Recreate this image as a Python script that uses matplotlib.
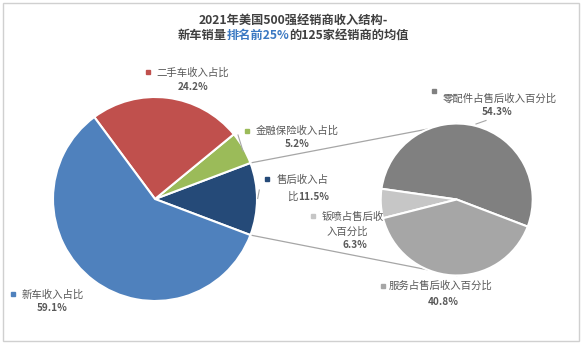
import matplotlib
matplotlib.use("Agg")
import matplotlib.pyplot as plt
from matplotlib.patches import Rectangle
import numpy as np

plt.rcParams['font.family'] = ['Noto Sans CJK SC', 'DejaVu Sans']

# ---- data ----
main_labels = ["售后收入占比11.5%", "金融保险收入占比", "二手车收入占比", "新车收入占比"]
main_values = [11.5, 5.2, 24.2, 59.1]
main_colors = ["#254a78", "#9bbb59", "#c0504d", "#4f81bd"]

sub_labels = ["零配件占售后收入百分比", "钣喷占售后收入百分比", "服务占售后收入百分比"]
sub_values = [54.3, 6.3, 40.8]
sub_colors = ["#808080", "#c6c6c6", "#a6a6a6"]

title_line1 = "2021年美国500强经销商收入结构-"
title_line2 = ["新车销量", "排名前25%", "的125家经销商的均值"]

W, H = 584, 343
fig = plt.figure(figsize=(W / 100, H / 100), dpi=100)
ax = fig.add_axes([0, 0, 1, 1])


def P(x, y):
    return (x, H - y)


# main pie
c1 = P(155, 199)
r1 = 102
start1 = -main_values[0] * 3.6 / 2
w1, _ = ax.pie(main_values, colors=main_colors, startangle=start1, counterclock=True,
               center=c1, radius=r1,
               wedgeprops=dict(edgecolor="white", linewidth=1.5))

# secondary pie
c2 = P(456.7, 199.5)
r2 = 76
w2, _ = ax.pie(sub_values, colors=sub_colors, startangle=-20.9, counterclock=True,
               center=c2, radius=r2,
               wedgeprops=dict(edgecolor="white", linewidth=1.5))

ax.set_xlim(0, W)
ax.set_ylim(0, H)
ax.set_aspect("equal")
ax.axis("off")

# connector lines from the 售后 slice edges to the top/bottom of the secondary pie
t_top = np.deg2rad(w1[0].theta2)
t_bot = np.deg2rad(w1[0].theta1)
p_top = (c1[0] + r1 * np.cos(t_top), c1[1] + r1 * np.sin(t_top))
p_bot = (c1[0] + r1 * np.cos(t_bot), c1[1] + r1 * np.sin(t_bot))
ax.plot([p_top[0], c2[0]], [p_top[1], c2[1] + r2], color="#a6a6a6", lw=0.9, zorder=0.5)
ax.plot([p_bot[0], c2[0]], [p_bot[1], c2[1] - r2], color="#a6a6a6", lw=0.9, zorder=0.5)

# short leader lines
ax.plot(*zip(P(476, 124), P(486, 120.5)), color="#a6a6a6", lw=0.8)
ax.plot(*zip(P(238, 135), P(243, 151)), color="#a6a6a6", lw=0.8)
ax.plot(*zip(P(259.3, 190), P(257.7, 198.5)), color="#a6a6a6", lw=0.8)

TXT = "#595959"
FS = 7.5


def label(mx, my, color, name_lines, pct, pct_xy):
    ax.plot(*P(mx, my), marker="s", markersize=2.6, color=color, mec=color)
    for (tx, ty, s, ha) in name_lines:
        ax.text(*P(tx, ty), s, ha=ha, va="center", fontsize=FS, color=TXT)
    if pct:
        ax.text(*P(*pct_xy), pct, ha="center", va="center", fontsize=FS - 0.3,
                color=TXT, fontweight="bold")


label(148.3, 72.3, main_colors[2], [(156, 72.5, "二手车收入占比", "left")],
      f"{main_values[2]}%", (193.3, 86.5))
label(246.7, 130.7, main_colors[1], [(256, 131, "金融保险收入占比", "left")],
      f"{main_values[1]}%", (297, 144))
label(267.3, 179.3, main_colors[0], [(276.5, 180, "售后收入占", "left")],
      "", (305, 196))
t_bi = ax.text(*P(287.5, 196.5), "比", ha="left", va="center", fontsize=FS, color=TXT)
fig.canvas.draw()
bw = t_bi.get_window_extent(fig.canvas.get_renderer()).width
ax.text(287.5 + bw, H - 196.5, f"{main_values[0]}%", ha="left", va="center",
        fontsize=FS - 0.3, color=TXT, fontweight="bold")
label(12.7, 294, main_colors[3], [(21.5, 294.5, "新车收入占比", "left")],
      f"{main_values[3]}%", (51.7, 308))

label(434.3, 91, sub_colors[0], [(443, 98.5, "零配件占售后收入百分比", "left")],
      f"{sub_values[0]}%", (496.7, 112))
label(312.7, 216, sub_colors[1], [(321.5, 216.5, "钣喷占售后收", "left"),
                                  (347, 231.5, "入百分比", "center")],
      f"{sub_values[1]}%", (355, 245.5))
label(382.7, 285.7, sub_colors[2], [(389, 286, "服务占售后收入百分比", "left")],
      f"{sub_values[2]}%", (443.3, 302))

# title
TCOL = "#404040"
BLUE = "#3a78c2"
TFS = 8.8
ax.text(*P(293, 20.5), title_line1, ha="center", va="center", fontsize=TFS,
        fontweight="bold", color=TCOL)
parts = []
for s, col in zip(title_line2, [TCOL, BLUE, TCOL]):
    parts.append(ax.text(0, H - 35.5, s, ha="left", va="center", fontsize=TFS,
                         fontweight="bold", color=col))
fig.canvas.draw()
r = fig.canvas.get_renderer()
widths = [t.get_window_extent(r).width for t in parts]
x = 293 - sum(widths) / 2
for t, wdt in zip(parts, widths):
    t.set_x(x)
    x += wdt

# frame
fig.patches.append(Rectangle((3 / W, 2.5 / H), 576 / W, 338 / H, transform=fig.transFigure,
                             fill=False, edgecolor="#d0d0d0", linewidth=1.0))

fig.savefig("out.png", dpi=100)
